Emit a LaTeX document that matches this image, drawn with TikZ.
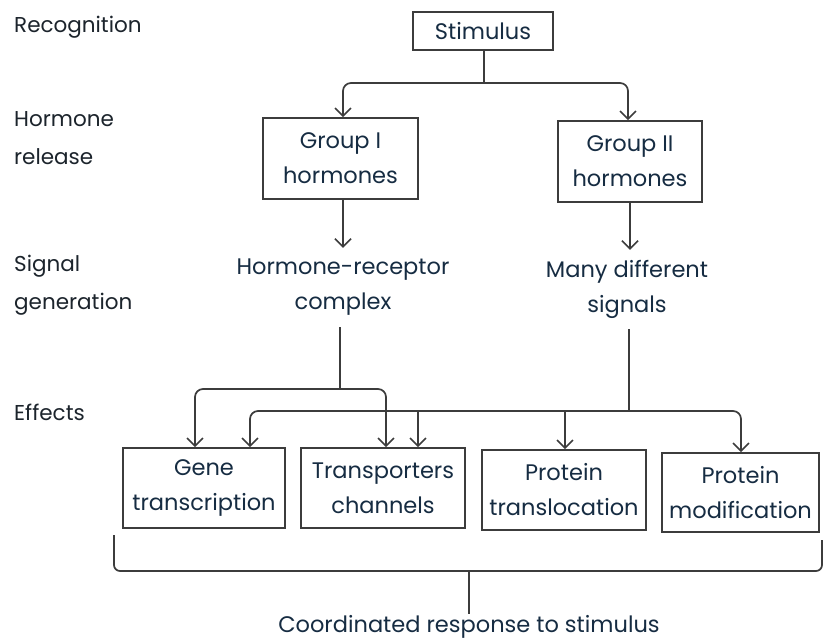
\documentclass[tikz,border=0pt]{standalone}
\usepackage{fontspec}
\setmainfont{Poppins}
\usetikzlibrary{arrows.meta,calc}
\definecolor{inkline}{RGB}{60,60,60}
\definecolor{inktext}{RGB}{22,44,66}
\definecolor{inklabel}{RGB}{28,36,44}
\tikzset{
  every node/.style={font=\fontsize{22.5}{35}\selectfont, text=inktext, inner sep=0pt},
  box/.style={draw=inkline, line width=1.7pt, align=center},
  plain/.style={align=center},
  stage/.style={align=left, anchor=west, text=inklabel, font=\fontsize{21.5}{38}\selectfont},
  link/.style={draw=inkline, line width=1.7pt, rounded corners=8pt},
  arr/.style={link, -{Straight Barb[length=8pt,width=16pt,line width=1.6pt]}},
}
\begin{document}
\begin{tikzpicture}[x=1pt,y=-1pt]
\useasboundingbox[fill=white] (0,0) rectangle (824,639);

% stage labels down the left margin
\node[stage] (lrec) at (14,27) {Recognition};
\node[stage] (lrel) at (14,138) {Hormone\\release};
\node[stage] (lsig) at (14,285) {Signal\\generation};
\node[stage] (leff) at (14,412) {Effects};

% hormone boxes and signal texts
\node[box, minimum width=140pt, minimum height=38pt] (stim) at (483,31) {Stimulus};
\node[box, minimum width=155pt, minimum height=81pt] (g1) at (340.5,158.5) {Group I\\hormones};
\node[box, minimum width=144pt, minimum height=81pt] (g2) at (630,161.5) {Group II\\hormones};
\node[plain, minimum height=80pt] (hrc) at (343,287) {Hormone-receptor\\complex};
\node[plain, minimum height=80pt] (mds) at (627,289) {Many different\\signals};

% effect boxes
\node[box, minimum width=162pt, minimum height=80pt] (gene) at (204,488) {Gene\\transcription};
\node[box, minimum width=164pt, minimum height=80pt] (trans) at (383,488) {Transporters\\channels};
\node[box, minimum width=164pt, minimum height=80pt] (transl) at (564,490) {Protein\\translocation};
\node[box, minimum width=157pt, minimum height=79pt] (modif) at (740.5,492.5) {Protein\\modification};

\node[plain] (resp) at (469,627) {Coordinated response to stimulus};

% junction points
\coordinate (j1) at (484,83);
\coordinate (j2) at (340,389);
\coordinate (j3) at (629,411);
\coordinate (b1) at (418,411);
\coordinate (b2) at (565,411);

% stimulus to hormone groups
\draw[link] (stim.south -| j1) -- (j1);
\draw[arr] (j1) -| ([xshift=2.5pt]g1.north);
\draw[arr] (j1) -| ([xshift=-2pt]g2.north);

% hormones to signals
\draw[arr] (g1.south -| hrc) -- ([yshift=-1pt]hrc.north);
\draw[arr] (g2.south) -- ([yshift=-1pt]g2.south |- mds.north);

% hormone-receptor complex to its effects
\draw[link] (hrc.south -| j2) -- (j2);
\draw[arr] (j2) -| ([xshift=-9pt]gene.north);
\draw[arr] (j2) -| ([xshift=3pt]trans.north);

% many signals to all effects
\draw[link] (mds.south -| j3) -- (j3);
\draw[arr] (j3) -| ([xshift=46pt]gene.north);
\draw[arr] (j3) -| ([xshift=0.5pt]modif.north);
\draw[arr] (b1) -- (b1 |- trans.north);
\draw[arr] (b2) -- (b2 |- transl.north);

% bracket gathering the effects
\coordinate (k1) at (114,535);
\coordinate (k2) at (822,571);
\coordinate (k3) at (822,540);
\coordinate (km) at (469,571);
\draw[link, rounded corners=6pt] (k1) |- (k2) -- (k3);
\draw[link] (km) -- ([yshift=1pt]resp.north -| km);
\end{tikzpicture}
\end{document}
